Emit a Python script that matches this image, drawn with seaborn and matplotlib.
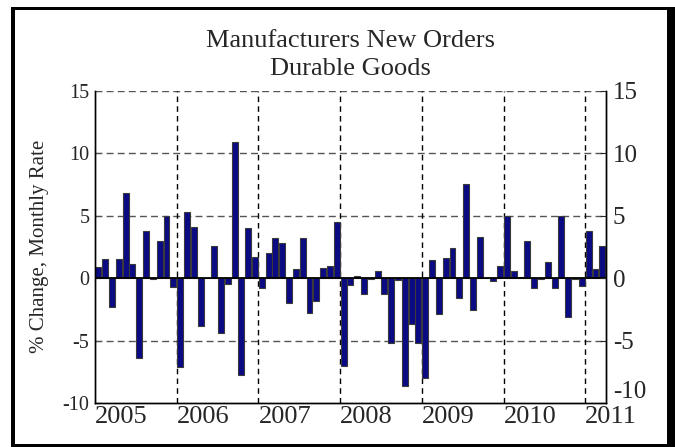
import pandas as pd
import matplotlib.pyplot as plt
import matplotlib.patches as mpatches
import seaborn as sns

# monthly % change, Jan 2005 .. Mar 2011
vals_2005 = [0.9, 1.5, -2.3, 1.5, 6.8, 1.1, -6.4, 3.8, -0.05, 3.0, 5.0, -0.7]
vals_2006 = [-7.1, 5.3, 4.1, -3.85, 0.05, 2.55, -4.4, -0.45, 10.9, -7.75, 4.0, 1.7]
vals_2007 = [-0.75, 2.0, 3.2, 2.8, -2.0, 0.75, 3.2, -2.75, -1.8, 0.85, 1.0, 4.5]
vals_2008 = [-7.0, -0.55, 0.2, -1.3, -0.1, 0.55, -1.3, -5.2, -0.15, -8.6, -3.65, -5.2]
vals_2009 = [-7.95, 1.45, -2.85, 1.65, 2.45, -1.55, 7.5, -2.55, 3.3, 0.02, -0.2, 0.95]
vals_2010 = [5.0, 0.55, 0.1, 2.95, -0.75, -0.1, 1.3, -0.75, 4.95, -3.1, -0.05, -0.6]
vals_2011 = [3.75, 0.75, 2.55]

years = ['2005', '2006', '2007', '2008', '2009', '2010', '2011']
y_ticks = [-10, -5, 0, 5, 10, 15]

values = vals_2005 + vals_2006 + vals_2007 + vals_2008 + vals_2009 + vals_2010 + vals_2011
months = pd.date_range('2005-01-01', periods=len(values), freq='MS').strftime('%Y-%m')
df = pd.DataFrame({'month': months, 'change': values})

sns.set_style('white')
plt.rcParams['font.family'] = ['Liberation Serif', 'DejaVu Serif']

W, H = 675, 447
fig = plt.figure(figsize=(W / 100, H / 100), dpi=100)
ax = fig.add_axes([95 / W, (H - 403.3) / H, 510.7 / W, 312.8 / H])

sns.barplot(data=df, x='month', y='change', ax=ax, color='#0a0a85', saturation=1,
            width=0.87, edgecolor='#3a3a3a', linewidth=0.8, zorder=2)

n = len(values)
ax.set_xlim(-0.5, n - 0.5)
ax.set_ylim(-10, 15)

# grid
for y in [-5, 5, 10, 15]:
    ax.axhline(y, color='#555555', lw=1, dashes=(5, 3), zorder=1)
for k in range(1, len(years)):
    ax.axvline(12 * k - 0.5, color='black', lw=1, dashes=(4, 3), zorder=1)
ax.axhline(0, color='black', lw=1.3, zorder=3)

# x axis: year labels left aligned at year start, monthly minor ticks
ax.set_xticks([12 * k - 0.5 for k in range(len(years))])
ax.set_xticklabels(years, ha='left', fontsize=19)
ax.set_xticks([i - 0.5 for i in range(n + 1)], minor=True)
ax.tick_params(axis='x', which='major', direction='in', length=6, width=1, pad=2)
ax.tick_params(axis='x', which='minor', direction='in', length=3.5, width=1)
ax.set_xlabel('')

ax.set_yticks(y_ticks)
ax.set_yticklabels([str(t) for t in y_ticks], fontsize=14.5)
ax.tick_params(axis='y', direction='in', length=4, pad=4)
ax.set_ylabel('')

ax2 = ax.twinx()
ax2.set_ylim(-10, 15)
ax2.set_yticks(y_ticks)
ax2.set_yticklabels([str(t) for t in y_ticks], fontsize=18)
ax2.tick_params(axis='y', direction='in', length=4, pad=5)
# bottom right label sits raised above the 2011 year label
ax2.get_yticklabels()[0].set_va('bottom')

for a in (ax, ax2):
    a.spines['top'].set_visible(False)
    for s in ('left', 'right', 'bottom'):
        a.spines[s].set_color('black')
        a.spines[s].set_linewidth(1)

fig.text(40 / W, (H - 246) / H, '% Change, Monthly Rate', rotation=90,
         ha='center', va='center', fontsize=15)

fig.text(350.5 / W, (H - 47.3) / H, 'Manufacturers New Orders',
         ha='center', va='baseline', fontsize=19)
fig.text(350.5 / W, (H - 75) / H, 'Durable Goods',
         ha='center', va='baseline', fontsize=19)

# page frame with heavy right edge
frame = [
    (11, 0, 3.7, H - 6.7),
    (11, H - 10.3, W - 11, 3.6),
    (667.3, 0, W - 667.3, H - 6.7),
    (11, 0, W - 11, 3),
]
for x0, y0, w, h in frame:
    fig.patches.append(mpatches.Rectangle((x0 / W, y0 / H), w / W, h / H,
                                          transform=fig.transFigure,
                                          color='black', lw=0))

fig.savefig('out.png', dpi=100)
